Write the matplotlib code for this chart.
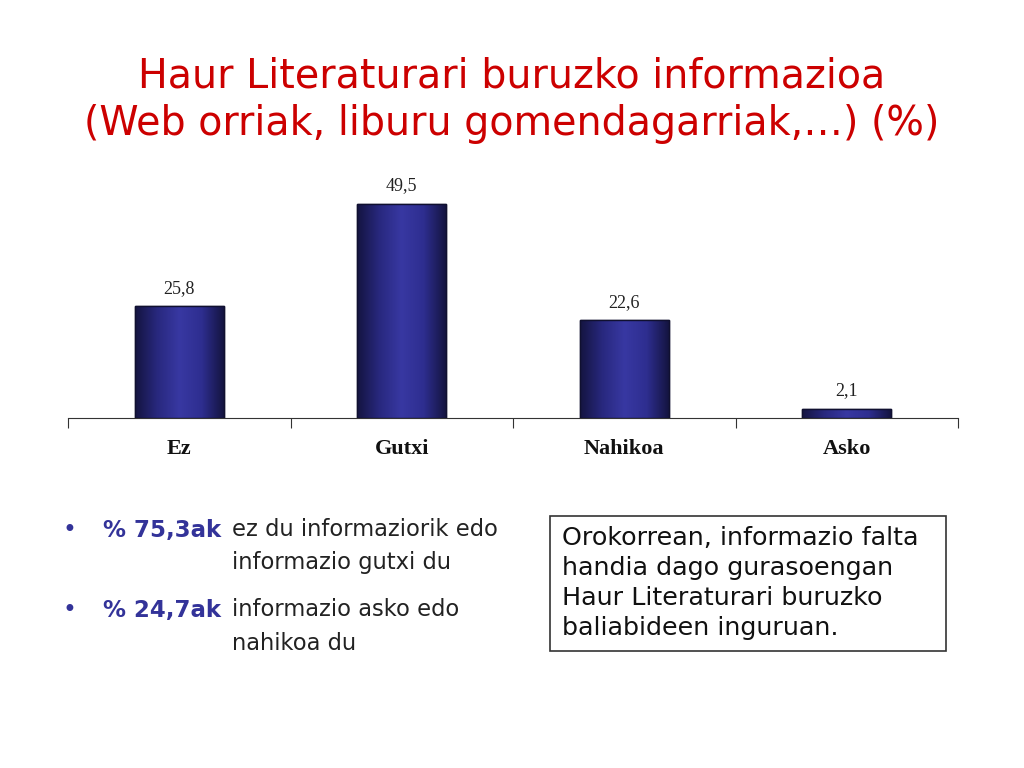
import matplotlib.pyplot as plt
import numpy as np
from matplotlib.colors import LinearSegmentedColormap
from matplotlib.patches import Rectangle

categories = ['Ez', 'Gutxi', 'Nahikoa', 'Asko']
values = [25.8, 49.5, 22.6, 2.1]
value_labels = ['25,8', '49,5', '22,6', '2,1']

title_lines = ['Haur Literaturari buruzko informazioa',
               '(Web orriak, liburu gomendagarriak,…) (%)']
bullet_bold = ['% 75,3ak', '% 24,7ak']
bullet_first = ['ez du informaziorik edo', 'informazio asko edo']
bullet_second = ['informazio gutxi du', 'nahikoa du']
box_text = ('Orokorrean, informazio falta\n'
            'handia dago gurasoengan\n'
            'Haur Literaturari buruzko\n'
            'baliabideen inguruan.')

W, H = 1024, 768
fig = plt.figure(figsize=(W / 100, H / 100), dpi=100)
fig.patch.set_facecolor('white')

# chart area
ax = fig.add_axes([68 / W, 1 - 418 / H, 890 / W, 262 / H])
x = np.arange(len(categories))
bars = ax.bar(x, values, width=0.4, color='#2e2e8a', edgecolor='#101030',
              linewidth=1.0, zorder=2)

# horizontal shading on each bar: dark edges, lighter middle
cmap = LinearSegmentedColormap.from_list(
    'barshade', ['#141440', '#28287e', '#3838a2', '#2e2e90', '#141440'])
grad = np.linspace(0, 1, 256).reshape(1, -1)
for b in bars:
    im = ax.imshow(grad, cmap=cmap, aspect='auto', zorder=3,
                   extent=[b.get_x(), b.get_x() + b.get_width(), 0, b.get_height()])
    im.set_clip_path(b)
    ax.add_patch(Rectangle((b.get_x(), 0), b.get_width(), b.get_height(),
                           fill=False, edgecolor='#101030', linewidth=1.0, zorder=4))

for xi, v, lab in zip(x, values, value_labels):
    ax.text(xi, v + 2.2, lab, ha='center', va='bottom', fontsize=13,
            family='Liberation Serif', color='#222222')

ax.set_xlim(-0.5, len(categories) - 0.5)
ax.set_ylim(0, 60.5)
for s in ['top', 'right', 'left']:
    ax.spines[s].set_visible(False)
ax.spines['bottom'].set_color('#333333')
ax.set_yticks([])
ax.set_xticks(np.arange(-0.5, len(categories), 1.0))
ax.set_xticklabels([])
ax.tick_params(axis='x', direction='out', length=7, color='#333333')
ax.set_xticks(x, minor=True)
ax.set_xticklabels(categories, minor=True, fontsize=16, fontweight='bold',
                   family='Liberation Serif', color='#111111')
ax.tick_params(axis='x', which='minor', length=0, pad=15)

# title
red = '#cc0000'
fig.text(512 / W, 1 - 76 / H, title_lines[0], ha='center', va='center',
         fontsize=28.5, color=red)
fig.text(512 / W, 1 - 124 / H, title_lines[1], ha='center', va='center',
         fontsize=28.5, color=red)

# bullets
blue = '#333399'
text_col = '#222222'
for i, y0 in enumerate([530, 610]):
    fig.text(63 / W, 1 - y0 / H, '•', ha='left', va='center', fontsize=17, color=blue)
    fig.text(103 / W, 1 - y0 / H, bullet_bold[i], ha='left', va='center',
             fontsize=16.5, fontweight='bold', color=blue)
    fig.text(232 / W, 1 - y0 / H, bullet_first[i], ha='left', va='center',
             fontsize=16.3, color=text_col)
    fig.text(232 / W, 1 - (y0 + 33) / H, bullet_second[i], ha='left', va='center',
             fontsize=16.3, color=text_col)

# framed note
fig.patches.append(Rectangle((550 / W, 1 - 651 / H), 396 / W, 135 / H,
                             transform=fig.transFigure, fill=False,
                             edgecolor='#333333', linewidth=1.2))
fig.text(562 / W, 1 - 583 / H, box_text, ha='left', va='center',
         fontsize=18.3, color='#111111', linespacing=1.3)

fig.savefig('out.png', dpi=100)
